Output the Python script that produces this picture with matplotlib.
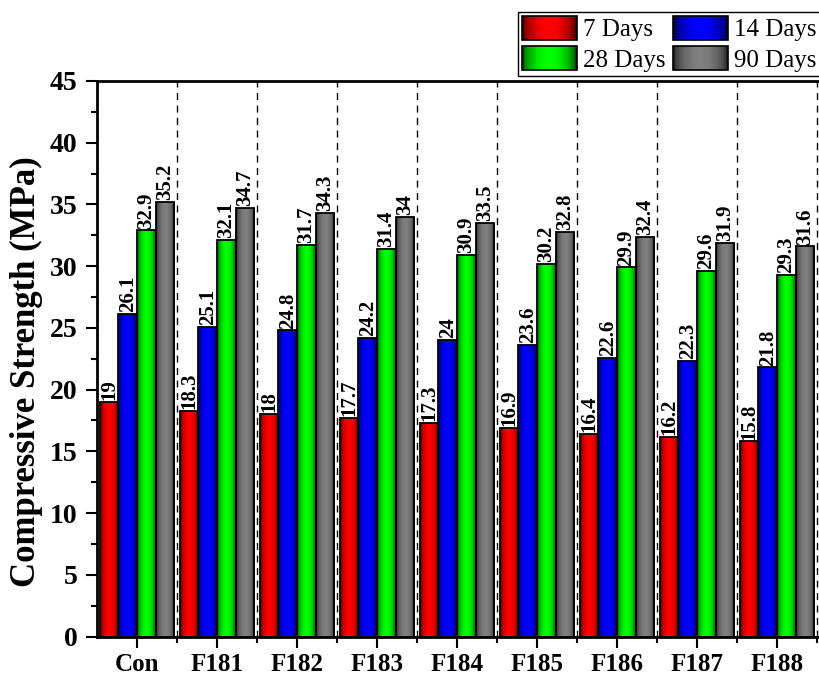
import numpy as np
import matplotlib.pyplot as plt
from matplotlib.patches import Rectangle
from matplotlib.legend_handler import HandlerBase
from matplotlib.ticker import MultipleLocator, FixedLocator

plt.rcParams['font.family'] = ['Liberation Serif', 'DejaVu Serif']

# data
groups = ['Con', 'F181', 'F182', 'F183', 'F184', 'F185', 'F186', 'F187', 'F188']
days_7 = [19, 18.3, 18, 17.7, 17.3, 16.9, 16.4, 16.2, 15.8]
days_14 = [26.1, 25.1, 24.8, 24.2, 24, 23.6, 22.6, 22.3, 21.8]
days_28 = [32.9, 32.1, 31.7, 31.4, 30.9, 30.2, 29.9, 29.6, 29.3]
days_90 = [35.2, 34.7, 34.3, 34, 33.5, 32.8, 32.4, 31.9, 31.6]
series = [days_7, days_14, days_28, days_90]
labels = ['7 Days', '14 Days', '28 Days', '90 Days']
colors = [(1, 0, 0), (0, 0, 1), (0, 1, 0), (0.5, 0.5, 0.5)]


def gradient(color, n=64):
    t = np.linspace(0, 1, n)
    k = 0.25 + 0.75 * np.sin(np.pi * t) ** 0.6
    return np.array([[np.array(color) * ki for ki in k]])


class GradHandler(HandlerBase):
    def create_artists(self, legend, orig, xd, yd, width, height, fontsize, trans):
        grad = gradient(orig.get_facecolor()[:3], 30)[0]
        arts = []
        n = len(grad)
        for i, c in enumerate(grad):
            r = Rectangle((-xd + width * i / n, -yd), width / n + 0.3, height,
                          facecolor=c, edgecolor='none', transform=trans)
            arts.append(r)
        arts.append(Rectangle((-xd, -yd), width, height, facecolor='none',
                              edgecolor='black', lw=1.2, transform=trans))
        return arts


fig = plt.figure(figsize=(8.19, 6.76), dpi=100)
ax = fig.add_axes([97 / 819, 39.5 / 676, 724 / 819, 555.5 / 676])

x = np.arange(len(groups))
w = 0.234
handles = []
for j, (vals, col) in enumerate(zip(series, colors)):
    offs = (j - 1.5) * w
    bars = ax.bar(x + offs, vals, w, facecolor='none', edgecolor='black',
                  linewidth=1.3, zorder=3)
    for b, v in zip(bars, vals):
        im = ax.imshow(gradient(col), extent=[b.get_x(), b.get_x() + w, 0, v],
                       aspect='auto', zorder=2, interpolation='bilinear')
        im.set_clip_path(b)
        ax.text(b.get_x() + w / 2, v + 0.15, f'{v:g}', rotation=90,
                ha='center', va='bottom', fontsize=15, fontweight='bold')
    handles.append(Rectangle((0, 0), 1, 1, facecolor=col))

for s in np.arange(0.5, len(groups), 1):
    ax.axvline(s, color='black', lw=1, linestyle=(0, (5, 4)), zorder=1)

ax.set_xlim(-0.5, 8.55)
ax.set_ylim(0, 45)
ax.set_xticks(x)
ax.set_xticklabels(groups, fontsize=18, fontweight='bold')
ax.xaxis.set_minor_locator(FixedLocator(np.arange(0.5, len(groups), 1)))
ax.yaxis.set_major_locator(MultipleLocator(5))
ax.yaxis.set_minor_locator(MultipleLocator(2.5))
for lab in ax.get_yticklabels():
    lab.set_fontsize(20)
    lab.set_fontweight('bold')
ax.tick_params(which='major', direction='out', length=8, width=1.5, pad=6)
ax.tick_params(axis='x', which='major', pad=4)
ax.tick_params(which='minor', direction='out', length=4, width=1.5)
ax.tick_params(axis='y', which='both', right=False)
for sp in ax.spines.values():
    sp.set_linewidth(2)

ax.set_ylabel('Compressive Strength (MPa)', fontsize=25, fontweight='bold')
ax.yaxis.set_label_coords(-0.074, 0.476)

# legend fills column-wise, so reorder to get rows 7/14 and 28/90
order = [0, 2, 1, 3]
fig.legend([handles[i] for i in order], [labels[i] for i in order],
           handler_map={Rectangle: GradHandler()}, ncol=2,
           loc='upper left', bbox_to_anchor=(518 / 819, 1 - 12 / 676),
           fontsize=18, frameon=True, fancybox=False, edgecolor='black',
           framealpha=1, handlelength=2.2, handleheight=1.1,
           handletextpad=0.25, columnspacing=0.3, labelspacing=0.2,
           borderpad=0.15, borderaxespad=0)

fig.savefig('out.png', dpi=100)
